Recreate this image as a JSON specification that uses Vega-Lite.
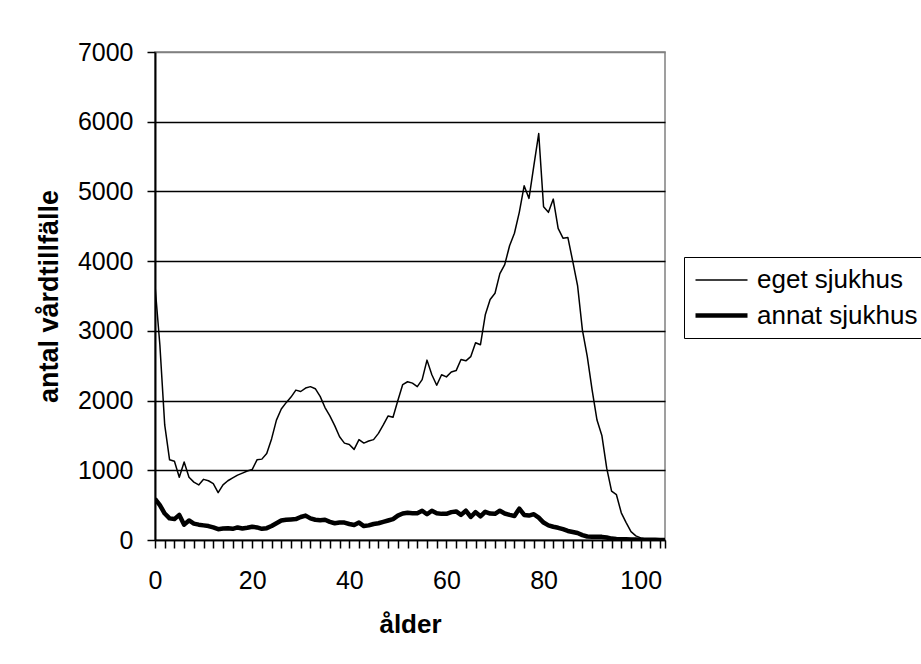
{
  "$schema": "https://vega.github.io/schema/vega-lite/v6.json",
  "autosize": "none",
  "width": 510,
  "height": 488,
  "padding": {"left": 155, "top": 52, "right": 256, "bottom": 124},
  "background": "white",
  "config": {
    "font": "Liberation Sans",
    "view": {"stroke": "#808080", "strokeWidth": 1.5}
  },
  "data": {
    "values": [
      {"alder":0,"serie":"eget sjukhus","antal":3650},{"alder":1,"serie":"eget sjukhus","antal":2800},{"alder":2,"serie":"eget sjukhus","antal":1650},{"alder":3,"serie":"eget sjukhus","antal":1150},{"alder":4,"serie":"eget sjukhus","antal":1130},{"alder":5,"serie":"eget sjukhus","antal":900},{"alder":6,"serie":"eget sjukhus","antal":1120},{"alder":7,"serie":"eget sjukhus","antal":900},{"alder":8,"serie":"eget sjukhus","antal":830},{"alder":9,"serie":"eget sjukhus","antal":790},
      {"alder":10,"serie":"eget sjukhus","antal":870},{"alder":11,"serie":"eget sjukhus","antal":850},{"alder":12,"serie":"eget sjukhus","antal":810},{"alder":13,"serie":"eget sjukhus","antal":680},{"alder":14,"serie":"eget sjukhus","antal":790},{"alder":15,"serie":"eget sjukhus","antal":850},{"alder":16,"serie":"eget sjukhus","antal":890},{"alder":17,"serie":"eget sjukhus","antal":930},{"alder":18,"serie":"eget sjukhus","antal":960},{"alder":19,"serie":"eget sjukhus","antal":990},
      {"alder":20,"serie":"eget sjukhus","antal":1010},{"alder":21,"serie":"eget sjukhus","antal":1150},{"alder":22,"serie":"eget sjukhus","antal":1160},{"alder":23,"serie":"eget sjukhus","antal":1240},{"alder":24,"serie":"eget sjukhus","antal":1450},{"alder":25,"serie":"eget sjukhus","antal":1720},{"alder":26,"serie":"eget sjukhus","antal":1880},{"alder":27,"serie":"eget sjukhus","antal":1970},{"alder":28,"serie":"eget sjukhus","antal":2050},{"alder":29,"serie":"eget sjukhus","antal":2150},
      {"alder":30,"serie":"eget sjukhus","antal":2130},{"alder":31,"serie":"eget sjukhus","antal":2180},{"alder":32,"serie":"eget sjukhus","antal":2200},{"alder":33,"serie":"eget sjukhus","antal":2170},{"alder":34,"serie":"eget sjukhus","antal":2060},{"alder":35,"serie":"eget sjukhus","antal":1900},{"alder":36,"serie":"eget sjukhus","antal":1780},{"alder":37,"serie":"eget sjukhus","antal":1640},{"alder":38,"serie":"eget sjukhus","antal":1480},{"alder":39,"serie":"eget sjukhus","antal":1390},
      {"alder":40,"serie":"eget sjukhus","antal":1370},{"alder":41,"serie":"eget sjukhus","antal":1300},{"alder":42,"serie":"eget sjukhus","antal":1440},{"alder":43,"serie":"eget sjukhus","antal":1390},{"alder":44,"serie":"eget sjukhus","antal":1420},{"alder":45,"serie":"eget sjukhus","antal":1440},{"alder":46,"serie":"eget sjukhus","antal":1530},{"alder":47,"serie":"eget sjukhus","antal":1650},{"alder":48,"serie":"eget sjukhus","antal":1780},{"alder":49,"serie":"eget sjukhus","antal":1760},
      {"alder":50,"serie":"eget sjukhus","antal":2000},{"alder":51,"serie":"eget sjukhus","antal":2230},{"alder":52,"serie":"eget sjukhus","antal":2270},{"alder":53,"serie":"eget sjukhus","antal":2250},{"alder":54,"serie":"eget sjukhus","antal":2200},{"alder":55,"serie":"eget sjukhus","antal":2300},{"alder":56,"serie":"eget sjukhus","antal":2580},{"alder":57,"serie":"eget sjukhus","antal":2370},{"alder":58,"serie":"eget sjukhus","antal":2220},{"alder":59,"serie":"eget sjukhus","antal":2370},
      {"alder":60,"serie":"eget sjukhus","antal":2340},{"alder":61,"serie":"eget sjukhus","antal":2410},{"alder":62,"serie":"eget sjukhus","antal":2430},{"alder":63,"serie":"eget sjukhus","antal":2590},{"alder":64,"serie":"eget sjukhus","antal":2570},{"alder":65,"serie":"eget sjukhus","antal":2630},{"alder":66,"serie":"eget sjukhus","antal":2830},{"alder":67,"serie":"eget sjukhus","antal":2800},{"alder":68,"serie":"eget sjukhus","antal":3230},{"alder":69,"serie":"eget sjukhus","antal":3450},
      {"alder":70,"serie":"eget sjukhus","antal":3540},{"alder":71,"serie":"eget sjukhus","antal":3820},{"alder":72,"serie":"eget sjukhus","antal":3950},{"alder":73,"serie":"eget sjukhus","antal":4220},{"alder":74,"serie":"eget sjukhus","antal":4400},{"alder":75,"serie":"eget sjukhus","antal":4700},{"alder":76,"serie":"eget sjukhus","antal":5080},{"alder":77,"serie":"eget sjukhus","antal":4900},{"alder":78,"serie":"eget sjukhus","antal":5370},{"alder":79,"serie":"eget sjukhus","antal":5830},
      {"alder":80,"serie":"eget sjukhus","antal":4780},{"alder":81,"serie":"eget sjukhus","antal":4700},{"alder":82,"serie":"eget sjukhus","antal":4890},{"alder":83,"serie":"eget sjukhus","antal":4470},{"alder":84,"serie":"eget sjukhus","antal":4330},{"alder":85,"serie":"eget sjukhus","antal":4340},{"alder":86,"serie":"eget sjukhus","antal":4000},{"alder":87,"serie":"eget sjukhus","antal":3650},{"alder":88,"serie":"eget sjukhus","antal":3010},{"alder":89,"serie":"eget sjukhus","antal":2630},
      {"alder":90,"serie":"eget sjukhus","antal":2150},{"alder":91,"serie":"eget sjukhus","antal":1720},{"alder":92,"serie":"eget sjukhus","antal":1500},{"alder":93,"serie":"eget sjukhus","antal":1030},{"alder":94,"serie":"eget sjukhus","antal":700},{"alder":95,"serie":"eget sjukhus","antal":650},{"alder":96,"serie":"eget sjukhus","antal":390},{"alder":97,"serie":"eget sjukhus","antal":250},{"alder":98,"serie":"eget sjukhus","antal":120},{"alder":99,"serie":"eget sjukhus","antal":60},
      {"alder":100,"serie":"eget sjukhus","antal":30},{"alder":101,"serie":"eget sjukhus","antal":15},{"alder":102,"serie":"eget sjukhus","antal":10},{"alder":103,"serie":"eget sjukhus","antal":5},{"alder":104,"serie":"eget sjukhus","antal":3},{"alder":105,"serie":"eget sjukhus","antal":2},
      {"alder":0,"serie":"annat sjukhus","antal":590},{"alder":1,"serie":"annat sjukhus","antal":500},{"alder":2,"serie":"annat sjukhus","antal":380},{"alder":3,"serie":"annat sjukhus","antal":310},{"alder":4,"serie":"annat sjukhus","antal":300},{"alder":5,"serie":"annat sjukhus","antal":360},{"alder":6,"serie":"annat sjukhus","antal":220},{"alder":7,"serie":"annat sjukhus","antal":280},{"alder":8,"serie":"annat sjukhus","antal":235},{"alder":9,"serie":"annat sjukhus","antal":220},
      {"alder":10,"serie":"annat sjukhus","antal":210},{"alder":11,"serie":"annat sjukhus","antal":200},{"alder":12,"serie":"annat sjukhus","antal":180},{"alder":13,"serie":"annat sjukhus","antal":155},{"alder":14,"serie":"annat sjukhus","antal":165},{"alder":15,"serie":"annat sjukhus","antal":170},{"alder":16,"serie":"annat sjukhus","antal":160},{"alder":17,"serie":"annat sjukhus","antal":180},{"alder":18,"serie":"annat sjukhus","antal":165},{"alder":19,"serie":"annat sjukhus","antal":175},
      {"alder":20,"serie":"annat sjukhus","antal":190},{"alder":21,"serie":"annat sjukhus","antal":180},{"alder":22,"serie":"annat sjukhus","antal":160},{"alder":23,"serie":"annat sjukhus","antal":170},{"alder":24,"serie":"annat sjukhus","antal":200},{"alder":25,"serie":"annat sjukhus","antal":240},{"alder":26,"serie":"annat sjukhus","antal":280},{"alder":27,"serie":"annat sjukhus","antal":290},{"alder":28,"serie":"annat sjukhus","antal":295},{"alder":29,"serie":"annat sjukhus","antal":300},
      {"alder":30,"serie":"annat sjukhus","antal":330},{"alder":31,"serie":"annat sjukhus","antal":350},{"alder":32,"serie":"annat sjukhus","antal":310},{"alder":33,"serie":"annat sjukhus","antal":290},{"alder":34,"serie":"annat sjukhus","antal":285},{"alder":35,"serie":"annat sjukhus","antal":290},{"alder":36,"serie":"annat sjukhus","antal":260},{"alder":37,"serie":"annat sjukhus","antal":240},{"alder":38,"serie":"annat sjukhus","antal":250},{"alder":39,"serie":"annat sjukhus","antal":250},
      {"alder":40,"serie":"annat sjukhus","antal":230},{"alder":41,"serie":"annat sjukhus","antal":215},{"alder":42,"serie":"annat sjukhus","antal":250},{"alder":43,"serie":"annat sjukhus","antal":200},{"alder":44,"serie":"annat sjukhus","antal":210},{"alder":45,"serie":"annat sjukhus","antal":230},{"alder":46,"serie":"annat sjukhus","antal":240},{"alder":47,"serie":"annat sjukhus","antal":260},{"alder":48,"serie":"annat sjukhus","antal":280},{"alder":49,"serie":"annat sjukhus","antal":300},
      {"alder":50,"serie":"annat sjukhus","antal":350},{"alder":51,"serie":"annat sjukhus","antal":380},{"alder":52,"serie":"annat sjukhus","antal":390},{"alder":53,"serie":"annat sjukhus","antal":385},{"alder":54,"serie":"annat sjukhus","antal":385},{"alder":55,"serie":"annat sjukhus","antal":420},{"alder":56,"serie":"annat sjukhus","antal":370},{"alder":57,"serie":"annat sjukhus","antal":420},{"alder":58,"serie":"annat sjukhus","antal":385},{"alder":59,"serie":"annat sjukhus","antal":375},
      {"alder":60,"serie":"annat sjukhus","antal":375},{"alder":61,"serie":"annat sjukhus","antal":400},{"alder":62,"serie":"annat sjukhus","antal":410},{"alder":63,"serie":"annat sjukhus","antal":360},{"alder":64,"serie":"annat sjukhus","antal":420},{"alder":65,"serie":"annat sjukhus","antal":330},{"alder":66,"serie":"annat sjukhus","antal":400},{"alder":67,"serie":"annat sjukhus","antal":340},{"alder":68,"serie":"annat sjukhus","antal":405},{"alder":69,"serie":"annat sjukhus","antal":380},
      {"alder":70,"serie":"annat sjukhus","antal":375},{"alder":71,"serie":"annat sjukhus","antal":420},{"alder":72,"serie":"annat sjukhus","antal":380},{"alder":73,"serie":"annat sjukhus","antal":360},{"alder":74,"serie":"annat sjukhus","antal":345},{"alder":75,"serie":"annat sjukhus","antal":450},{"alder":76,"serie":"annat sjukhus","antal":360},{"alder":77,"serie":"annat sjukhus","antal":350},{"alder":78,"serie":"annat sjukhus","antal":370},{"alder":79,"serie":"annat sjukhus","antal":320},
      {"alder":80,"serie":"annat sjukhus","antal":250},{"alder":81,"serie":"annat sjukhus","antal":210},{"alder":82,"serie":"annat sjukhus","antal":190},{"alder":83,"serie":"annat sjukhus","antal":175},{"alder":84,"serie":"annat sjukhus","antal":155},{"alder":85,"serie":"annat sjukhus","antal":130},{"alder":86,"serie":"annat sjukhus","antal":115},{"alder":87,"serie":"annat sjukhus","antal":100},{"alder":88,"serie":"annat sjukhus","antal":70},{"alder":89,"serie":"annat sjukhus","antal":50},
      {"alder":90,"serie":"annat sjukhus","antal":45},{"alder":91,"serie":"annat sjukhus","antal":45},{"alder":92,"serie":"annat sjukhus","antal":45},{"alder":93,"serie":"annat sjukhus","antal":35},{"alder":94,"serie":"annat sjukhus","antal":20},{"alder":95,"serie":"annat sjukhus","antal":15},{"alder":96,"serie":"annat sjukhus","antal":12},{"alder":97,"serie":"annat sjukhus","antal":10},{"alder":98,"serie":"annat sjukhus","antal":8},{"alder":99,"serie":"annat sjukhus","antal":6},
      {"alder":100,"serie":"annat sjukhus","antal":5},{"alder":101,"serie":"annat sjukhus","antal":4},{"alder":102,"serie":"annat sjukhus","antal":3},{"alder":103,"serie":"annat sjukhus","antal":2},{"alder":104,"serie":"annat sjukhus","antal":1},{"alder":105,"serie":"annat sjukhus","antal":1}
    ]
  },
  "mark": {"type": "line", "color": "black", "strokeJoin": "round", "clip": true},
  "encoding": {
    "x": {
      "field": "alder",
      "type": "quantitative",
      "scale": {"domain": [0, 105], "nice": false, "zero": false},
      "axis": {
        "title": "ålder",
        "titleFont": "Liberation Sans",
        "titleFontSize": 26,
        "titleFontWeight": "bold",
        "titleColor": "black",
        "titlePadding": 18,
        "values": [0,2,4,6,8,10,12,14,16,18,20,22,24,26,28,30,32,34,36,38,40,42,44,46,48,50,52,54,56,58,60,62,64,66,68,70,72,74,76,78,80,82,84,86,88,90,92,94,96,98,100,102,104,105],
        "labelExpr": "datum.value % 20 === 0 ? datum.label : ''",
        "labelFontSize": 25,
        "labelColor": "black",
        "labelPadding": 20,
        "labelOverlap": false,
        "labelFlush": false,
        "tickSize": 8,
        "tickColor": "black",
        "tickWidth": 1.5,
        "domainColor": "black",
        "domainWidth": 1.5,
        "grid": false
      }
    },
    "y": {
      "field": "antal",
      "type": "quantitative",
      "scale": {"domain": [0, 7000], "nice": false},
      "axis": {
        "title": "antal vårdtillfälle",
        "titleFont": "Liberation Sans",
        "titleFontSize": 27,
        "titleFontWeight": "bold",
        "titleColor": "black",
        "titlePadding": 14,
        "values": [0,1000,2000,3000,4000,5000,6000,7000],
        "format": "d",
        "labelFontSize": 25,
        "labelColor": "black",
        "labelPadding": 14,
        "tickSize": 8,
        "tickColor": "black",
        "tickWidth": 1.5,
        "domainColor": "black",
        "domainWidth": 2,
        "grid": true,
        "gridColor": {"condition": {"test": "datum.value === 7000", "value": "#808080"}, "value": "black"},
        "gridWidth": 1.5
      }
    },
    "strokeWidth": {
      "field": "serie",
      "type": "ordinal",
      "scale": {"domain": ["eget sjukhus", "annat sjukhus"], "range": [1.5, 4.5]},
      "legend": {
        "title": null,
        "orient": "none",
        "legendX": 529,
        "legendY": 205,
        "symbolType": "M-1,0H3",
        "symbolStrokeColor": "black",
        "symbolFillColor": "transparent",
        "symbolSize": 676,
        "labelFontSize": 26,
        "labelColor": "black",
        "labelFont": "Liberation Sans",
        "labelOffset": 33,
        "labelLimit": 400,
        "strokeColor": "black",
        "padding": 9,
        "rowPadding": 7
      }
    },
    "detail": {"field": "serie"}
  }
}
